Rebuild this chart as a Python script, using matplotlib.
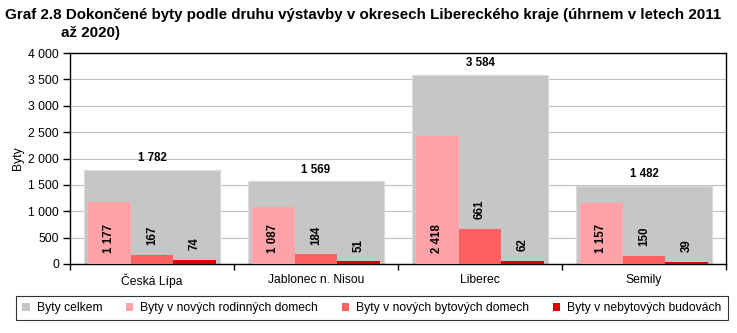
import matplotlib
matplotlib.use("Agg")
import matplotlib.pyplot as plt
from matplotlib.ticker import FuncFormatter, FixedLocator
from matplotlib.patches import Patch
import numpy as np

categories = ["Česká Lípa", "Jablonec n. Nisou", "Liberec", "Semily"]
total = [1782, 1569, 3584, 1482]
rodinne = [1177, 1087, 2418, 1157]
bytove = [167, 184, 661, 150]
nebytove = [74, 51, 62, 39]
series_names = ["Byty celkem", "Byty v nových rodinných domech",
                "Byty v nových bytových domech", "Byty v nebytových budovách"]
title = "Graf 2.8 Dokončené byty podle druhu výstavby v okresech Libereckého kraje (úhrnem v letech 2011"
title2 = "až 2020)"

colors = ["#C6C6C6", "#FFA3A8", "#FF6060", "#D90000"]

plt.rcParams['font.family'] = ['Liberation Sans', 'DejaVu Sans']

def fmt(v):
    return f"{int(v):,}".replace(",", " ")

fig = plt.figure(figsize=(7.37, 3.33), dpi=100)
ax = fig.add_axes([70/737, 1-264/333, 656/737, 211/333])

x = np.arange(len(categories))
w = 0.26
ax.bar(x, total, width=0.835, color=colors[0], edgecolor="#DADADA", linewidth=0.8, zorder=2)
ax.bar(x - w, rodinne, width=w, color=colors[1], zorder=3)
ax.bar(x, bytove, width=w, color=colors[2], zorder=3)
ax.bar(x + w, nebytove, width=w, color=colors[3], zorder=3)

lab_fs = 8.3
for xi, v in zip(x, total):
    ax.annotate(fmt(v), (xi, v), xytext=(0, 4), textcoords="offset points",
                ha="center", va="bottom", fontsize=lab_fs, fontweight="bold", zorder=5)
for xi, v in zip(x - w, rodinne):
    ax.annotate(fmt(v), (xi, 0), xytext=(0, 8), textcoords="offset points",
                ha="center", va="bottom", rotation=90, fontsize=lab_fs, fontweight="bold", zorder=5)
for xi, v in zip(x, bytove):
    ax.annotate(fmt(v), (xi, v), xytext=(0, 7), textcoords="offset points",
                ha="center", va="bottom", rotation=90, fontsize=lab_fs, fontweight="bold", zorder=5)
for xi, v in zip(x + w, nebytove):
    ax.annotate(fmt(v), (xi, v), xytext=(0, 7), textcoords="offset points",
                ha="center", va="bottom", rotation=90, fontsize=lab_fs, fontweight="bold", zorder=5)

ax.set_xlim(-0.5, 3.5)
ax.set_ylim(0, 4000)
ax.set_yticks(np.arange(0, 4001, 500))
ax.yaxis.set_major_formatter(FuncFormatter(lambda v, p: fmt(v)))
ax.set_xticks(x)
ax.set_xticklabels(categories, fontsize=8.7)
ax.tick_params(axis="x", which="major", length=0, pad=7)
ax.xaxis.set_minor_locator(FixedLocator(np.arange(-0.5, 3.51, 1)))
ax.tick_params(axis="x", which="minor", length=4, width=1, direction="out")
ax.tick_params(axis="y", labelsize=8.7, length=5, width=1, direction="out", pad=3)
ax.grid(axis="y", color="#C0C0C0", linewidth=0.8, zorder=0)
ax.set_axisbelow(True)
for s in ax.spines.values():
    s.set_color("black")
    s.set_linewidth(1)
ax.set_ylabel("Byty", fontsize=8.7, labelpad=3)

fig.text(5/737, 1-15/333, title, fontsize=10.9, fontweight="bold", ha="left", va="center")
fig.text(61/737, 1-33/333, title2, fontsize=10.9, fontweight="bold", ha="left", va="center")

handles = [Patch(facecolor=c, edgecolor="none") for c in colors]
leg = fig.legend(handles, series_names, loc="center", ncol=4, fontsize=8.7,
                 bbox_to_anchor=((17+727)/2/737, 1-308/333), frameon=True, fancybox=False,
                 handlelength=0.6, handleheight=0.6, handletextpad=0.6, columnspacing=1.95,
                 borderpad=0.5)
leg.get_frame().set_edgecolor("black")
leg.get_frame().set_linewidth(0.8)

fig.savefig("out.png", dpi=100)
